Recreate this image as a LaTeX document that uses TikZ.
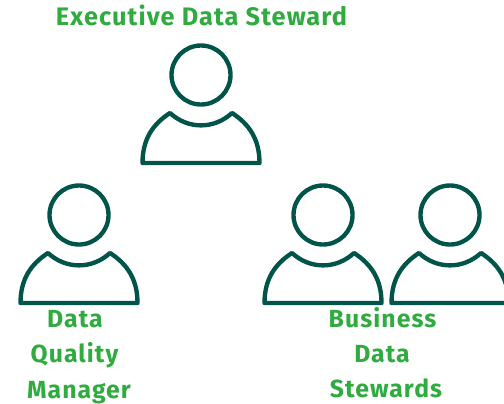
\documentclass[tikz,border=0pt]{standalone}
\usepackage{fontspec}
\setmainfont{Fira Sans}[LetterSpace=4.4]
\definecolor{stroketeal}{HTML}{00544A}
\definecolor{labelgreen}{HTML}{2FAB3F}
\tikzset{
  person/.style={draw=stroketeal,line width=3.1pt,line join=round},
  rolelabel/.style={text=labelgreen,font=\fontsize{17.6}{20}\selectfont\bfseries,inner sep=0pt,anchor=base},
}
\begin{document}
\begin{tikzpicture}[x=0.025cm,y=-0.025cm]
\useasboundingbox (0,0) rectangle (504,403);
\clip (0,0) rectangle (504,403);
\node[rolelabel,font=\fontsize{18}{20}\selectfont\bfseries] (title) at (201.5,25) {Executive Data Steward};
% top person
\draw[person] (201,75) circle (29.5);
\draw[person] (142.5,163) .. controls (142.5,139) and (153,124) .. (170,113) .. controls (188,129.5) and (214,129.5) .. (232,113) .. controls (249,124) and (259.5,139) .. (259.5,163) -- cycle;
% left person
\draw[person] (79,215) circle (29.5);
\draw[person] (20.5,303) .. controls (20.5,279) and (31,264) .. (48,253) .. controls (66,269.5) and (92,269.5) .. (110,253) .. controls (127,264) and (137.5,279) .. (137.5,303) -- cycle;
% right persons
\draw[person] (323,215) circle (29.5);
\draw[person] (264.5,303) .. controls (264.5,279) and (275,264) .. (292,253) .. controls (310,269.5) and (336,269.5) .. (354,253) .. controls (371,264) and (381.5,279) .. (381.5,303) -- cycle;
\draw[person] (450,215) circle (29.5);
\draw[person] (391.5,303) .. controls (391.5,279) and (402,264) .. (419,253) .. controls (437,269.5) and (463,269.5) .. (481,253) .. controls (498,264) and (508.5,279) .. (508.5,303) -- cycle;
\node[rolelabel] (dqmone) at (75,327) {Data};
\node[rolelabel] (dqmtwo) at (74.5,362.5) {Quality};
\node[rolelabel] (dqmthree) at (79,398) {Manager};
\node[rolelabel] (bdsone) at (382.5,327) {Business};
\node[rolelabel] (bdstwo) at (382,362) {Data};
\node[rolelabel] (bdsthree) at (386,397) {Stewards};
\end{tikzpicture}
\end{document}
